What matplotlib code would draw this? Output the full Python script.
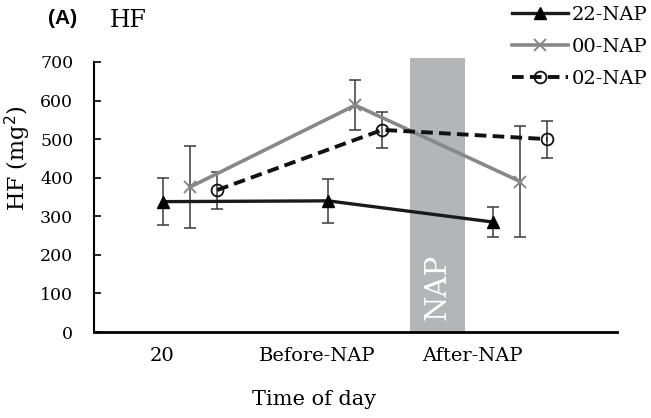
import matplotlib.pyplot as plt
import numpy as np
from matplotlib.lines import Line2D

plt.rcParams['font.family'] = 'DejaVu Serif'

# HF values (mean and SD) at each time point
times = ['20', 'Before-NAP', 'After-NAP']
hf_22 = [338, 340, 285]
sd_22 = [61, 57, 39]
hf_00 = [376, 588, 390]
sd_00 = [106, 65, 144]
hf_02 = [368, 524, 500]
sd_02 = [48, 47, 48]

x = np.arange(3)
off = 0.164
label_pos = [-0.006, 0.933, 1.873]

fig = plt.figure(figsize=(6.51, 4.18), dpi=100)
ax = fig.add_axes([0.1444, 0.2057, 0.8036, 0.646])

# nap period
ax.bar(1.6635, 710, width=0.333, bottom=0, color='#b4b5b7', zorder=0, clip_on=False)
ax.text(1.6635, 116, 'NAP', rotation=90, color='white', fontsize=21,
        ha='center', va='center', zorder=1)

ekw = dict(fmt='none', ecolor='#3a3a3a', elinewidth=1.1, capsize=4.5, capthick=1.1, zorder=2)
ax.errorbar(x, hf_22, yerr=sd_22, **ekw)
ax.errorbar(x + off, hf_00, yerr=sd_00, **ekw)
ax.errorbar(x + 2 * off, hf_02, yerr=sd_02, **ekw)

l22, = ax.plot(x, hf_22, '-', color='#1a1a1a', lw=2.4, marker='^', ms=9,
               mfc='black', mec='black', zorder=3)
l00, = ax.plot(x + off, hf_00, '-', color='#888888', lw=2.6, marker='x', ms=8,
               mew=1.4, zorder=3)
l02, = ax.plot(x + 2 * off, hf_02, '--', color='#111111', lw=2.8, marker='o', ms=8.5,
               mfc='none', mec='#111111', mew=1.3, dashes=(3, 1.6), zorder=4)

ax.set_xlim(-0.418, 2.75)
ax.set_ylim(0, 700)
ax.set_yticks(range(0, 701, 100))
ax.set_xticks(label_pos)
ax.set_xticklabels(times)
ax.tick_params(axis='x', length=0, labelsize=14, pad=11)
ax.tick_params(axis='y', direction='in', length=5, width=1.2, labelsize=12.5, pad=15)
for s in ['top', 'right']:
    ax.spines[s].set_visible(False)
ax.spines['left'].set_linewidth(1.5)
ax.spines['bottom'].set_linewidth(2)

ax.set_ylabel('HF (mg$^2$)', fontsize=16)
ax.yaxis.set_label_coords(-0.116, 0.645)
ax.set_xlabel('Time of day', fontsize=15)
ax.xaxis.set_label_coords((314 - 94) / 523, -0.215)

fig.text(0.074, 0.955, '(A)', fontfamily='Liberation Sans', fontweight='bold',
         fontsize=15, va='center', ha='left')
fig.text(0.168, 0.952, 'HF', fontsize=17, va='center', ha='left')

handles = [Line2D([], [], color=l.get_color(), lw=l.get_linewidth(), ls=l.get_linestyle(),
                  marker=l.get_marker(), ms=l.get_markersize(), mfc=l.get_markerfacecolor(),
                  mec=l.get_markeredgecolor(), mew=l.get_markeredgewidth())
           for l in (l22, l00, l02)]
handles[2].set_dashes((3, 1.6))
fig.legend(handles, ['22-NAP', '00-NAP', '02-NAP'], loc='upper right',
           bbox_to_anchor=(1.016, 1.018), frameon=False, fontsize=14,
           handlelength=2.9, handletextpad=0.2, labelspacing=0.72, borderpad=0.2)

fig.savefig('out.png', dpi=100)
